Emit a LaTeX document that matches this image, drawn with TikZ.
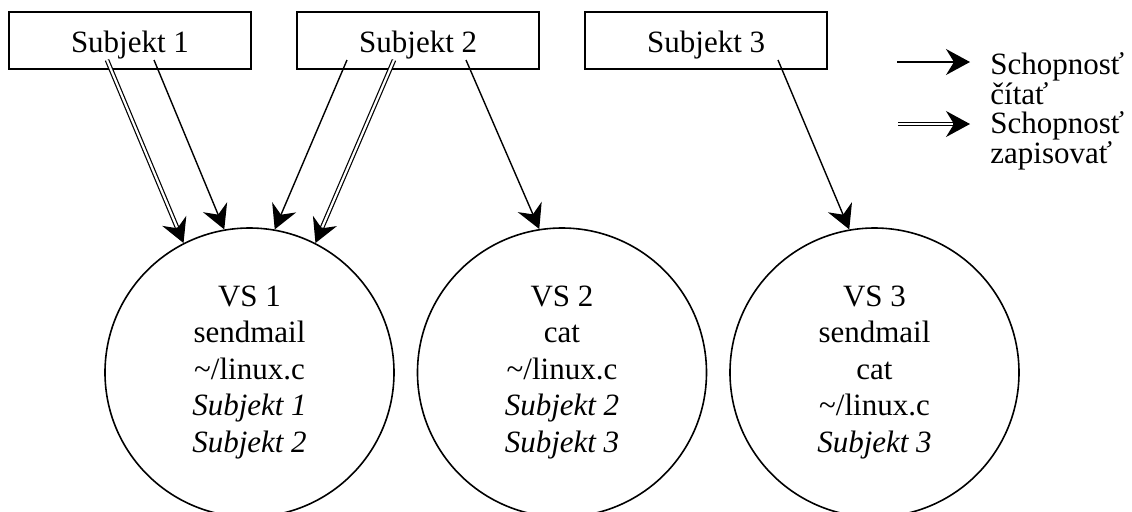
\documentclass[tikz,border=0pt]{standalone}
\usepackage{fontspec}
\setmainfont{Liberation Serif}
\usetikzlibrary{arrows.meta,calc}
\begin{document}
\begin{tikzpicture}[x=0.5pt,y=-0.5pt,
  font=\fontsize{15.5}{18.25}\selectfont,
  box/.style={draw,line width=0.8pt,minimum width=121pt,minimum height=28.5pt,inner sep=0pt,text height=11.5pt,text depth=0pt},
  vs/.style={draw,circle,line width=0.8pt,minimum size=144.5pt,inner sep=0pt,align=center},
  tip/.style={-{Stealth[length=12pt,width=13pt,inset=4pt]}},
  rd/.style={line width=0.7pt,tip},
  wr/.style={double,line width=0.6pt,double distance=1.1pt,shorten >=8pt},
  wrtip/.style={line width=0.6pt,tip},
  legend/.style={anchor=base west,align=left,font=\fontsize{15.5}{14.75}\selectfont,inner sep=0pt}
]
\useasboundingbox (0,0) rectangle (1132,511);

% subjects
\node[box] (s1) at (130,40.5) {Subjekt 1};
\node[box] (s2) at (418.2,40.5) {Subjekt 2};
\node[box] (s3) at (706.2,40.5) {Subjekt 3};

% objects
\node[vs] (vs1) at (249.5,372.5) {VS 1\\sendmail\\\textasciitilde/linux.c\\\textit{Subjekt 1}\\\textit{Subjekt 2}};
\node[vs] (vs2) at (562,372.5) {VS 2\\cat\\\textasciitilde/linux.c\\\textit{Subjekt 2}\\\textit{Subjekt 3}};
\node[vs] (vs3) at (874.5,372.5) {VS 3\\sendmail\\cat\\\textasciitilde/linux.c\\\textit{Subjekt 3}};

% start points inside the subject boxes
\coordinate (s1w) at (107,60);
\coordinate (s1r) at (154,60);
\coordinate (s2r1) at (347,60);
\coordinate (s2w) at (394,60);
\coordinate (s2r2) at (466,60);
\coordinate (s3r) at (778,60);

% read arrows
\draw[rd] (s1r) -- (vs1.100.3);
\draw[rd] (s2r1) -- (vs1.80);
\draw[rd] (s2r2) -- (vs2.99.4);
\draw[rd] (s3r) -- (vs3.100.3);

% write arrows
\draw[wr] (s1w) -- (vs1.117.4);
\draw[wrtip] ($(vs1.117.4)!8.5pt!(s1w)$) -- (vs1.117.4);
\draw[wr] (s2w) -- (vs1.63);
\draw[wrtip] ($(vs1.63)!8.5pt!(s2w)$) -- (vs1.63);

% legend
\coordinate (l1a) at (897,62);
\coordinate (l1b) at (970,62);
\coordinate (l2a) at (898,124);
\coordinate (l2b) at (970,124);
\draw[rd] (l1a) -- (l1b);
\draw[wr] (l2a) -- (l2b);
\draw[wrtip] ($(l2b)!8.5pt!(l2a)$) -- (l2b);
\node[legend] (lt1) at (990,104) {Schopnosť\\čítať};
\node[legend] (lt2) at (990,163) {Schopnosť\\zapisovať};
\end{tikzpicture}
\end{document}
